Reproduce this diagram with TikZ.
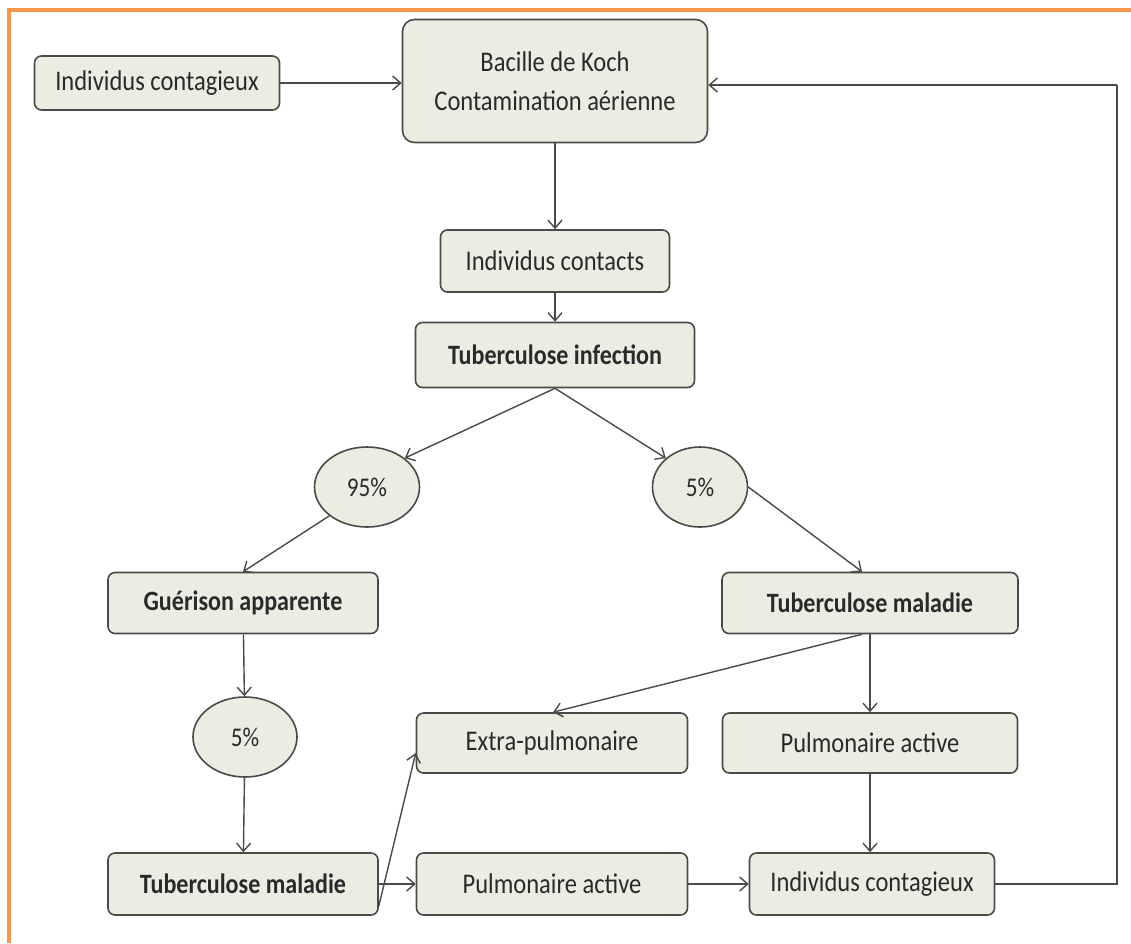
\documentclass[tikz,border=0pt]{standalone}
\usepackage{fontspec}
\setmainfont{Carlito}[FakeStretch=0.86]
\usetikzlibrary{arrows.meta,shapes.geometric}
\definecolor{boxfill}{HTML}{EDECE2}
\definecolor{boxline}{HTML}{4A4A48}
\definecolor{txt}{HTML}{2A2A2A}
\definecolor{frame}{HTML}{F5964A}
\tikzset{
  box/.style={draw=boxline, line width=1.6pt, fill=boxfill, rounded corners=7pt, align=center, text=txt, font=\fontsize{28.5}{39}\selectfont, inner sep=0pt},
  bbox/.style={box, font=\fontsize{28}{32}\selectfont\bfseries},
  oval/.style={ellipse, draw=boxline, line width=1.6pt, fill=boxfill, text=txt, font=\fontsize{27}{30}\selectfont, inner sep=0pt},
  conn/.style={draw=boxline, line width=1.4pt, -{Straight Barb[length=8pt,width=14pt,line width=1.4pt]}},
  plain/.style={draw=boxline, line width=1.4pt}
}
\begin{document}
\begin{tikzpicture}[x=1pt,y=-1pt]
\useasboundingbox (0,0) rectangle (1131,943);
\fill[white] (0,0) rectangle (1131,943);
\draw[frame, line width=4pt] (9,943) -- (9,10) -- (1131,10);

\node[box, minimum width=245pt, minimum height=54pt] (ic1) at (157,83) {Individus contagieux};
\node[box, minimum width=305pt, minimum height=123pt, rounded corners=12pt] (bk) at (555,81) {Bacille de Koch\\Contamination aérienne};
\node[box, minimum width=229pt, minimum height=62pt] (cont) at (555,261) {Individus contacts};
\node[bbox, minimum width=279pt, minimum height=65pt] (inf) at (555,355) {Tuberculose infection};
\node[oval, minimum width=105pt, minimum height=80pt] (p95) at (367,487) {95\%};
\node[oval, minimum width=95pt, minimum height=80pt] (p5a) at (700,487) {5\%};
\node[bbox, minimum width=270pt, minimum height=61pt] (gue) at (243,603) {Guérison apparente};
\node[bbox, minimum width=296pt, minimum height=61pt] (tm1) at (870,603) {Tuberculose maladie};
\node[oval, minimum width=104pt, minimum height=80pt] (p5b) at (245,737) {5\%};
\node[box, minimum width=271pt, minimum height=60pt] (extra) at (552,743) {Extra-pulmonaire};
\node[box, minimum width=295pt, minimum height=60pt] (pa1) at (870,743) {Pulmonaire active};
\node[bbox, minimum width=270pt, minimum height=62pt] (tm2) at (243,884) {Tuberculose maladie};
\node[box, minimum width=271pt, minimum height=62pt] (pa2) at (552,884) {Pulmonaire active};
\node[box, minimum width=245pt, minimum height=62pt] (ic2) at (872,884) {Individus contagieux};

\coordinate (r1) at (1117,884);
\coordinate (r2) at (1117,85);

\draw[conn] (ic1) -- (bk.west |- ic1);
\draw[conn] (bk) -- (cont);
\draw[conn] (cont) -- (inf);
\draw[conn] (inf.south) -- (p95.north east);
\draw[conn] (inf.south) -- (p5a.north west);
\draw[conn] (p95.south west) -- (gue.north);
\draw[conn] (p5a.east) -- ([xshift=-8pt]tm1.north);
\draw[conn] (gue) -- (p5b);
\draw[conn] (p5b) -- (tm2);
\draw[conn] ([xshift=-8pt]tm1.south) -- ([xshift=1pt]extra.north);
\draw[conn] (tm1) -- (pa1);
\draw[conn] (pa1) -- (ic2.north -| pa1.south);
\draw[conn] (tm2) -- (pa2);
\draw[conn] (pa2) -- (ic2);
\draw[conn] ([yshift=-22pt]tm2.east) -- ([yshift=-10pt]extra.west);
\draw[plain] (ic2.east) -- (r1) -- (r2);
\draw[conn] (r2) -- (bk.east |- r2);
\end{tikzpicture}
\end{document}
